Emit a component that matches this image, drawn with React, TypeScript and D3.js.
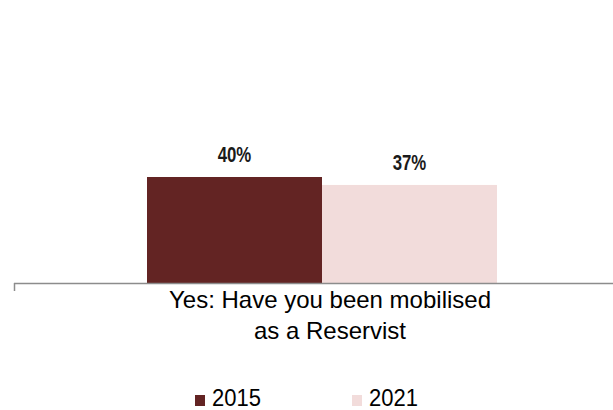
import React from "react";
import * as d3 from "d3";

const categories = ["Yes: Have you been mobilised\nas a Reservist"];
const seriesNames = ["2015", "2021"];
const values2015 = [40];
const values2021 = [37];
const colors = ["#632423", "#F2DCDB"];

export default function App() {
  const W = 613, H = 410;
  const x0 = d3.scaleBand<string>().domain(categories).range([14, 613]).paddingInner(0).paddingOuter(0);
  const x1 = d3.scaleBand<string>().domain(seriesNames).range([133, 483]).padding(0);
  const y = d3.scaleLinear().domain([0, 100]).range([283, 18]);
  const series = [values2015, values2021];
  const cat = categories[0];
  const cx = (x0(cat) ?? 0);
  return (
    <svg width={W} height={H} style={{ position: "absolute", left: 0, top: 0 }} fontFamily="'Liberation Sans', Arial, sans-serif">
      <rect x={0} y={0} width={W} height={H} fill="#fff" />
      {series.map((vals, si) => {
        const bx = (x1(seriesNames[si]) ?? 0) + 14;
        const bw = x1.bandwidth();
        const v = vals[0];
        const lx = bx + bw / 2;
        const ly = y(v) - 15;
        return (
          <g key={si}>
            <rect x={bx} y={y(v)} width={bw} height={y(0) - y(v)} fill={colors[si]} />
            <text transform={`translate(${lx},${ly}) scale(0.8,1.05)`} textAnchor="middle" fontSize={21} fontWeight="bold" fill="#1a1a1a">{`${v}%`}</text>
          </g>
        );
      })}
      <line x1={14} x2={613} y1={283.5} y2={283.5} stroke="#8c8c8c" strokeWidth={1.5} />
      <line x1={14.5} x2={14.5} y1={283} y2={291} stroke="#8c8c8c" strokeWidth={1.5} />
      {cat.split("\n").map((ln, i) => (
        <text key={i} x={cx + 316} y={308 + i * 31} textAnchor="middle" fontSize={24} fill="#000">{ln}</text>
      ))}
      {seriesNames.map((s, i) => {
        const lx = 195 + i * 157;
        return (
          <g key={s}>
            <rect x={lx} y={395} width={10} height={11} fill={colors[i]} />
            <text transform={`translate(${lx + 17},406) scale(1,1.1)`} fontSize={22} fill="#000">{s}</text>
          </g>
        );
      })}
    </svg>
  );
}
